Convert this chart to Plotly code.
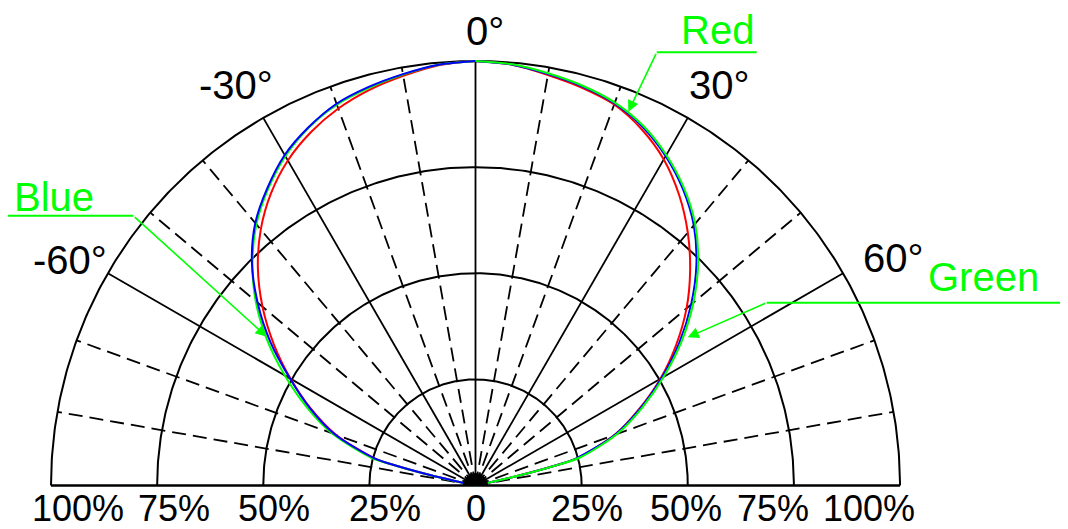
import numpy as np
import plotly.graph_objects as go

# ---------------- data: relative intensity (%) vs. angle (deg) ----------------
angles = [-78, -77.5, -77, -76, -75, -70, -65, -60, -55, -50, -45, -40, -35, -30, -25, -20, -15, -10, -5,
          0, 5, 10, 15, 20, 25, 30, 35, 40, 45, 50, 55, 60, 65, 70, 75, 76, 77, 77.5, 78]
red = [0, 5, 11, 19, 24.5, 35.0, 42.8, 50.3, 58.0, 65.5, 72.5, 78.7, 84.0, 88.4, 91.8, 94.5, 96.5, 98.0, 99.4,
       100, 99.5, 98.2, 97.0, 95.5, 92.6, 88.7, 83.6, 77.8, 71.5, 64.9, 57.7, 50.3, 42.5, 34.9, 24.5, 19, 11, 5, 0]
green = [0, 5.5, 11.5, 19.5, 25.5, 36.0, 44.0, 51.9, 60.0, 67.6, 74.3, 80.3, 85.2, 89.6, 93.0, 95.5, 97.0, 98.3, 99.5,
         100, 99.6, 98.6, 97.5, 96.0, 93.5, 89.9, 85.6, 80.5, 74.2, 67.0, 59.3, 51.2, 43.3, 35.5, 25.5, 19.5, 11.5, 5.5, 0]
blue = [0, 5, 11, 19, 24.5, 35.3, 43.0, 50.5, 59.0, 67.0, 74.5, 80.7, 85.5, 89.9, 93.1, 95.7, 97.2, 98.4, 99.5,
        100, 99.5, 98.4, 97.3, 95.8, 93.2, 89.6, 85.2, 80.0, 73.6, 66.3, 58.6, 50.6, 42.8, 35.0, 24.5, 19, 11, 5, 0]

radial_rings = [25, 50, 75, 100]
solid_spokes = [-60, -30, 0, 30, 60]
dashed_spokes = [-80, -70, -50, -40, -20, -10, 10, 20, 40, 50, 70, 80]
angle_labels = ["-60°", "-30°", "0°", "30°", "60°"]
pct_labels = ["100%", "75%", "50%", "25%", "0", "25%", "50%", "75%", "100%"]
series_names = ["Red", "Green", "Blue"]

# ---------------- geometry of the canvas ----------------
W, H = 1068, 529          # browser window
OFF = 8                   # default page margin around the plot div
FW, FH = W - OFF, H - OFF # figure size
CX, CY, RPX = 475.5 - OFF, 485.5 - OFF, 424.5   # pixel centre (in figure) and pixel radius of 100 %
S = RPX / 100.0
XR = [-CX / S, (FW - CX) / S]
YR = [-(FH - CY) / S, CY / S]


def px(x, y):
    """window pixel position -> axis units (for text/decoration placement)"""
    return (x - OFF - CX) / S, (CY - (y - OFF)) / S


def pol(r, th):
    r = np.asarray(r, float)
    t = np.radians(np.asarray(th, float))
    return r * np.sin(t), r * np.cos(t)


LIME = "#00ff00"
FONT = "Liberation Sans, Arial, sans-serif"

fig = go.Figure()

# rings
th = np.linspace(-90, 90, 361)
rx, ry = [], []
for r in radial_rings:
    x, y = pol(r, th)
    rx += list(x) + [None]
    ry += list(y) + [None]
fig.add_trace(go.Scatter(x=rx, y=ry, mode="lines", line=dict(color="black", width=2), hoverinfo="skip"))

# baseline
fig.add_trace(go.Scatter(x=[-100, 100], y=[0, 0], mode="lines", line=dict(color="black", width=2.4),
                         hoverinfo="skip"))

# spokes
sx, sy = [], []
for a in solid_spokes:
    x, y = pol([0, 100], [a, a])
    sx += list(x) + [None]
    sy += list(y) + [None]
fig.add_trace(go.Scatter(x=sx, y=sy, mode="lines", line=dict(color="black", width=1.8), hoverinfo="skip"))
for a in dashed_spokes:
    x, y = pol([0, 100], [a, a])
    fig.add_trace(go.Scatter(x=x, y=y, mode="lines", line=dict(color="black", width=1.8, dash="14px,7px"),
                             hoverinfo="skip"))

# curves (left half then right half, stacking order as in the original)
ang = np.array(angles, float)
L = ang <= 0
Rm = ang >= 0
vals = {"Red": np.array(red, float), "Green": np.array(green, float), "Blue": np.array(blue, float)}
cols = {"Red": "#ff0000", "Green": "#00ff00", "Blue": "#0000ff"}
for name in ["Red", "Green", "Blue"]:
    x, y = pol(vals[name][L], ang[L])
    fig.add_trace(go.Scatter(x=x, y=y, mode="lines", name=name,
                             line=dict(color=cols[name], width=2, shape="spline", smoothing=0.8),
                             hoverinfo="skip"))
for name in ["Red", "Blue", "Green"]:
    x, y = pol(vals[name][Rm], ang[Rm])
    fig.add_trace(go.Scatter(x=x, y=y, mode="lines", name=name,
                             line=dict(color=cols[name], width=2, shape="spline", smoothing=0.8),
                             hoverinfo="skip"))

# centre hub (filled half disc)
hub_r = 12 / S
hx, hy = pol(hub_r, np.linspace(-90, 90, 61))
fig.add_trace(go.Scatter(x=list(hx) + [hx[0]], y=list(hy) + [hy[0]], mode="lines", fill="toself",
                         fillcolor="black", line=dict(color="black", width=1), hoverinfo="skip"))

annotations = []
shapes = []

# angle labels (left edge x, cap centre y in window pixels)
angle_pos = {"-60°": (31, 260), "-30°": (197, 85), "0°": (464, 31), "30°": (687, 85), "60°": (861, 258)}
for lab in angle_labels:
    x, y = px(*angle_pos[lab])
    annotations.append(dict(x=x, y=y, xref="x", yref="y", text=lab, showarrow=False, xanchor="left",
                            yanchor="middle", font=dict(family=FONT, size=40, color="black")))

# percent labels along the base (centre x in window pixels)
pct_x = [77.6, 173.6, 274, 385, 476, 587, 686, 773, 869]
for lab, xp in zip(pct_labels, pct_x):
    x, y = px(xp, 508)
    annotations.append(dict(x=x, y=y, xref="x", yref="y", text=lab, showarrow=False, xanchor="center",
                            yanchor="middle", font=dict(family=FONT, size=36, color="black")))

# series call-outs: text, underline, leader arrow
callouts = {
    "Red":   dict(text=(679, 30), line=((656.7, 52.3), (756.7, 52.3)), tip=(628.3, 111.7)),
    "Green": dict(text=(926, 277), line=((766.7, 302.7), (1068, 302.7)), tip=(687.7, 337.3)),
    "Blue":  dict(text=(12, 197), line=((133.3, 215.7), (6.7, 215.7)), tip=(266.7, 336.7)),
}
for name in series_names:
    c = callouts[name]
    x, y = px(*c["text"])
    annotations.append(dict(x=x, y=y, xref="x", yref="y", text=name, showarrow=False, xanchor="left",
                            yanchor="middle", font=dict(family=FONT, size=40, color=LIME)))
    (x0, y0), (x1, y1) = [px(*p) for p in c["line"]]
    shapes.append(dict(type="line", xref="x", yref="y", x0=x0, y0=y0, x1=x1, y1=y1,
                       line=dict(color=LIME, width=2)))
    tx, ty = px(*c["tip"])
    annotations.append(dict(x=tx, y=ty, xref="x", yref="y", ax=x0, ay=y0, axref="x", ayref="y",
                            text="", showarrow=True, arrowhead=2, arrowsize=1.4, arrowwidth=1.6,
                            arrowcolor=LIME, standoff=0, startstandoff=0))

fig.update_layout(
    width=FW, height=FH,
    margin=dict(l=0, r=0, t=0, b=0),
    paper_bgcolor="white", plot_bgcolor="white",
    showlegend=False,
    xaxis=dict(range=XR, visible=False, fixedrange=True),
    yaxis=dict(range=YR, visible=False, fixedrange=True),
    annotations=annotations,
    shapes=shapes,
    hovermode=False,
)

fig.write_html("out.html")
